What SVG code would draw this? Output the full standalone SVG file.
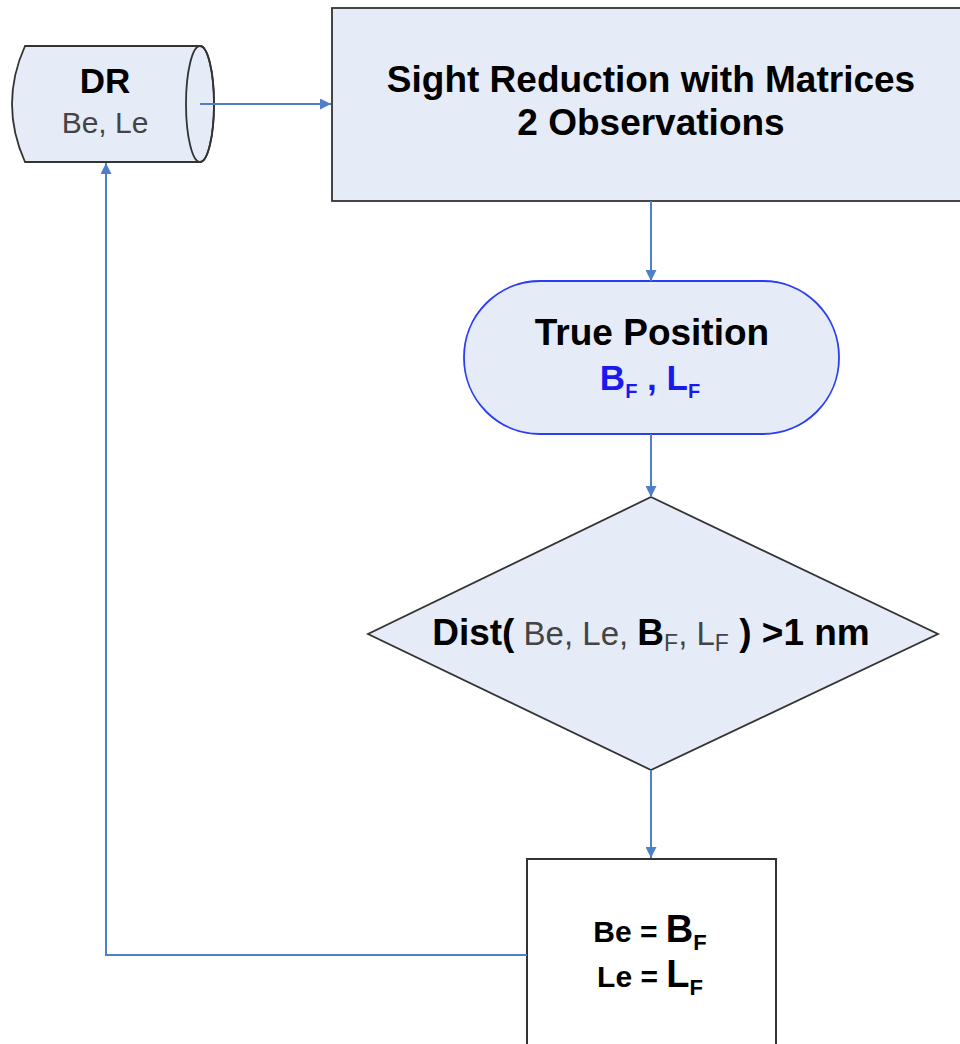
<svg xmlns="http://www.w3.org/2000/svg" width="960" height="1044" viewBox="0 0 960 1044">
<defs>
<style>
.shape{fill:#e6ecf7;stroke:#333;stroke-width:1.8}
.t{font-family:"Liberation Sans",Arial,sans-serif;text-anchor:middle}
.b{font-weight:bold}
.g{fill:#444}
.conn{fill:none;stroke:#4f7fc8;stroke-width:2}
</style>
<marker id="ah" viewBox="0 0 10 10" refX="10" refY="5" markerWidth="13" markerHeight="11" orient="auto" markerUnits="userSpaceOnUse">
<path d="M0,0 L10,5 L0,10 z" fill="#4f7fc8"/>
</marker>
</defs>
<rect width="960" height="1044" fill="#fff"/>
<g id="dr">
<path class="shape" d="M25,46 L200,46 A14,58 0 0 1 200,162 L25,162 Q-1,104 25,46 Z"/>
<ellipse cx="200" cy="104" rx="14" ry="58" fill="none" stroke="#333" stroke-width="1.8"/>
<text class="t b" x="105" y="93" font-size="35">DR</text>
<text class="t g" x="105" y="133" font-size="30">Be, Le</text>
</g>
<g id="sight">
<rect class="shape" x="332" y="8" width="640" height="193" stroke-width="2.2"/>
<text class="t b" x="651" y="92" font-size="37">Sight Reduction with Matrices</text>
<text class="t b" x="651" y="135" font-size="37">2 Observations</text>
</g>
<g id="truepos">
<rect x="464" y="281" width="375" height="153" rx="76" ry="76" fill="#e6ecf7" stroke="#2b3cf5" stroke-width="1.8"/>
<text class="t b" x="652" y="345" font-size="37">True Position</text>
<text class="t b" x="650" y="390" font-size="35" style="fill:#1a1aee">B<tspan font-size="20" dy="8">F</tspan><tspan dy="-8"> , L</tspan><tspan font-size="20" dy="8">F</tspan></text>
</g>
<g id="dist">
<polygon class="shape" points="651,497 938,634 651,770 368,634"/>
<text class="t" x="651" y="645" font-size="37"><tspan class="b">Dist(</tspan><tspan class="g" font-size="33"> Be, Le, </tspan><tspan class="b">B</tspan><tspan class="g" font-size="23" dy="6">F</tspan><tspan class="g" dy="-6" font-size="33">, L</tspan><tspan class="g" font-size="23" dy="6">F</tspan><tspan dy="-6" class="b"> ) &gt;1 nm</tspan></text>
</g>
<g id="assign">
<rect x="527" y="859" width="249" height="200" fill="#fff" stroke="#333" stroke-width="2"/>
<text class="t b" x="650" y="942" font-size="30">Be = <tspan font-size="38">B</tspan><tspan font-size="22" dy="8">F</tspan></text>
<text class="t b" x="650" y="987" font-size="30">Le = <tspan font-size="38">L</tspan><tspan font-size="22" dy="8">F</tspan></text>
</g>
<g id="connectors">
<path class="conn" d="M200,104 L331,104" marker-end="url(#ah)"/>
<path class="conn" d="M651,201 L651,281" marker-end="url(#ah)"/>
<path class="conn" d="M651,434 L651,497" marker-end="url(#ah)"/>
<path class="conn" d="M651,770 L651,858" marker-end="url(#ah)"/>
<path class="conn" d="M527,955 L106,955 L106,163" marker-end="url(#ah)"/>
</g>
</svg>
